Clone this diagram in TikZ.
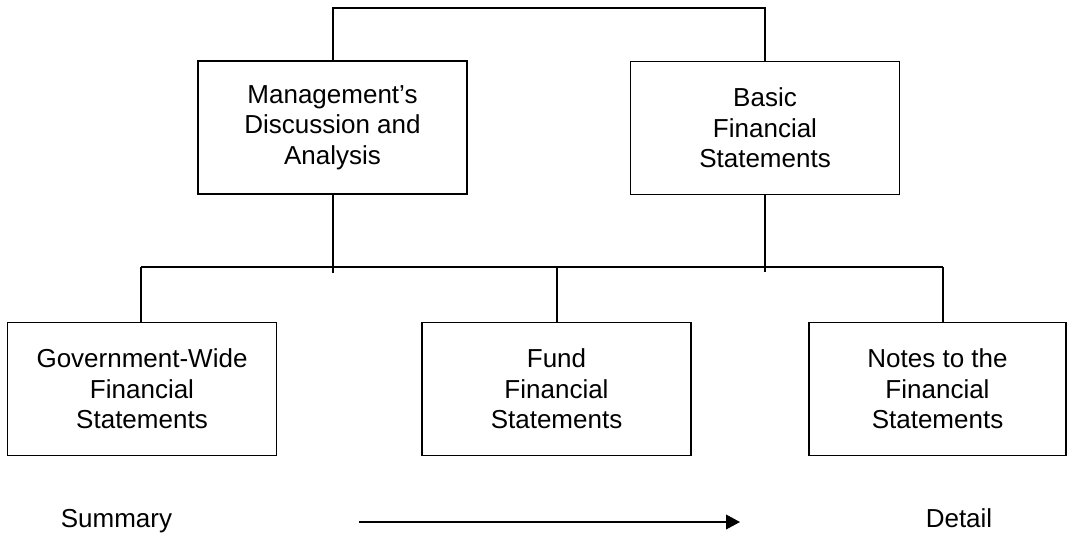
\documentclass[tikz,border=0pt]{standalone}
\usepackage{fontspec}
\setmainfont{Liberation Sans}
\usetikzlibrary{arrows.meta}
\begin{document}
\begin{tikzpicture}[x=0.75pt,y=-0.75pt,
  box/.style={draw,line width=1.2pt,inner sep=0pt,align=center,
    minimum width=201.75pt,minimum height=100pt,
    font=\fontsize{19.5}{23}\selectfont},
  conn/.style={line width=1.5pt},
  lbl/.style={inner sep=0pt,anchor=base,font=\fontsize{19.5}{23}\selectfont}]
\useasboundingbox (0,0) rectangle (1069,533);
\node[box] (mda) at (332.5,127.5) {Management’s\\Discussion and\\Analysis};
\node[box] (basic) at (765,128) {Basic\\Financial\\Statements};
\node[box] (gov) at (142,389) {Government-Wide\\Financial\\Statements};
\node[box] (fund) at (556.5,389) {Fund\\Financial\\Statements};
\node[box,minimum width=192.75pt] (notes) at (937.5,389) {Notes to the\\Financial\\Statements};
\coordinate (busL) at (141,267);
\coordinate (busR) at (943,267);
\coordinate (topL) at (332.5,8);
\draw[conn] (mda.north) -- (topL) -| (basic.north);
\draw[conn] (busL) -- (busR);
\draw[conn] (mda.south) -- ++(0,78);
\draw[conn] (basic.south) -- ++(0,77);
\draw[conn] (busL) -- (busL |- gov.north);
\draw[conn] (fund.north |- busL) -- (fund.north);
\draw[conn] (busR) -- (busR |- notes.north);
\node[lbl] (summary) at (116.5,527) {Summary};
\node[lbl] (detail) at (959,527) {Detail};
\coordinate (aS) at (359,522);
\coordinate (aE) at (740,522);
\draw[line width=1.2pt,-{Triangle[length=10.5pt,width=11pt]}] (aS) -- (aE);
\end{tikzpicture}
\end{document}
